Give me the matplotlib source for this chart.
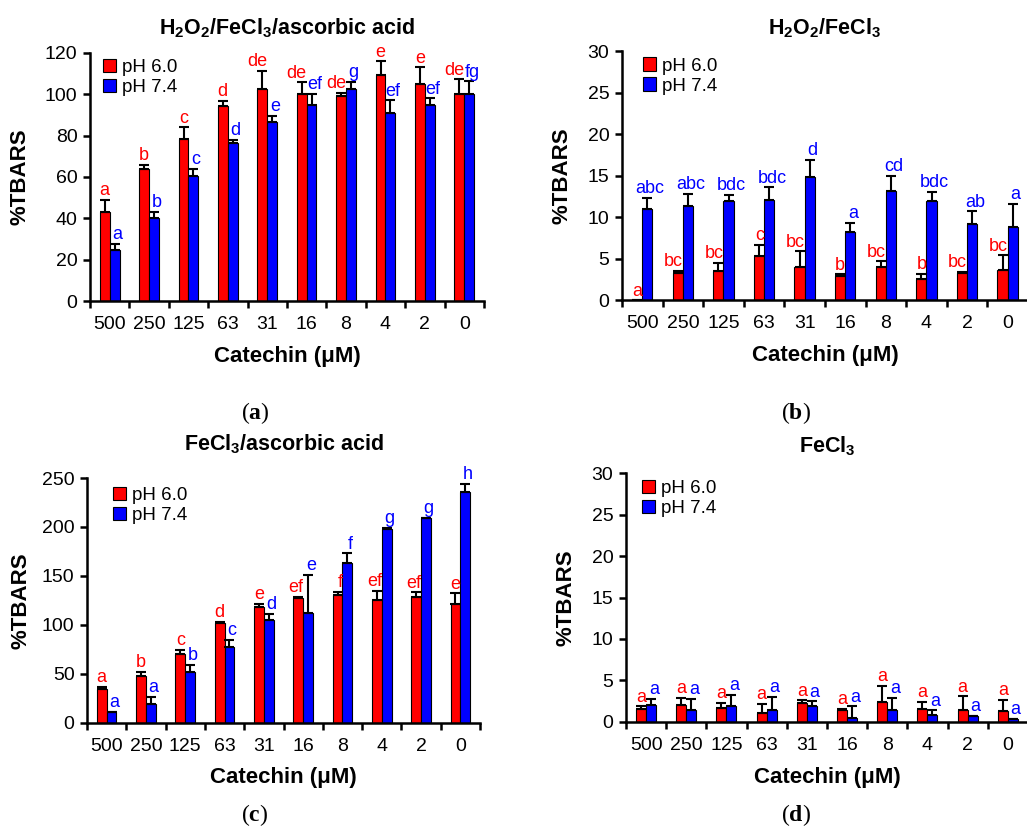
import numpy as np
import matplotlib
matplotlib.use("Agg")
from matplotlib import pyplot as plt

plt.rcParams["font.family"] = ["Liberation Sans", "DejaVu Sans"]
plt.rcParams["mathtext.fontset"] = "custom"
plt.rcParams["mathtext.rm"] = "Liberation Sans:bold"
plt.rcParams["mathtext.bf"] = "Liberation Serif:bold"

catechin = ["500", "250", "125", "63", "31", "16", "8", "4", "2", "0"]
series = ["pH 6.0", "pH 7.4"]

# (a) H2O2/FeCl3/ascorbic acid
a_ph60 = [43.3, 64.0, 78.5, 94.5, 102.6, 100.2, 99.4, 109.5, 105.2, 100.0]
a_ph60_err = [5.5, 1.7, 5.5, 2.3, 8.9, 5.5, 1.4, 6.5, 7.8, 7.2]
a_ph74 = [24.7, 40.0, 60.3, 76.4, 86.8, 94.8, 102.6, 91.1, 94.8, 100.0]
a_ph74_err = [2.8, 3.0, 3.7, 1.6, 2.7, 5.4, 3.4, 5.9, 3.2, 6.2]
a_let60 = ["a", "b", "c", "d", "de", "de", "de", "e", "e", "de"]
a_let74 = ["a", "b", "c", "d", "e", "ef", "g", "ef", "ef", "fg"]

# (b) H2O2/FeCl3
b_ph60 = [0.0, 3.3, 3.5, 5.3, 4.0, 2.9, 4.0, 2.5, 3.3, 3.6]
b_ph60_err = [0.0, 0.2, 1.0, 1.4, 1.9, 0.2, 0.7, 0.7, 0.1, 1.8]
b_ph74 = [10.95, 11.3, 11.9, 12.1, 14.9, 8.2, 13.2, 12.0, 9.15, 8.8]
b_ph74_err = [1.35, 1.5, 0.8, 1.5, 2.0, 1.1, 1.8, 1.1, 1.55, 2.8]
b_let60 = ["a", "bc", "bc", "c", "bc", "b", "bc", "b", "bc", "bc"]
b_let74 = ["abc", "abc", "bdc", "bdc", "d", "a", "cd", "bdc", "ab", "a"]

# (c) FeCl3/ascorbic acid
c_ph60 = [35.1, 48.1, 70.3, 101.6, 118.7, 127.9, 131.0, 125.2, 128.2, 121.4]
c_ph60_err = [1.7, 4.1, 4.1, 1.4, 3.1, 1.1, 3.0, 9.5, 5.2, 10.9]
c_ph74 = [10.9, 19.1, 52.5, 77.8, 105.0, 112.5, 163.0, 197.8, 208.7, 236.0]
c_ph74_err = [0.7, 7.5, 6.8, 6.8, 6.2, 38.9, 10.0, 1.0, 0.7, 7.9]
c_let60 = ["a", "b", "c", "d", "e", "ef", "f", "ef", "ef", "e"]
c_let74 = ["a", "a", "b", "c", "d", "e", "f", "g", "g", "h"]

# (d) FeCl3
d_ph60 = [1.6, 2.1, 1.7, 1.1, 2.3, 1.4, 2.4, 1.6, 1.4, 1.3]
d_ph60_err = [0.3, 0.8, 0.6, 1.1, 0.3, 0.2, 1.95, 0.8, 1.7, 1.4]
d_ph74 = [2.1, 1.5, 1.9, 1.5, 1.9, 0.5, 1.5, 0.8, 0.7, 0.4]
d_ph74_err = [0.7, 1.3, 1.4, 1.5, 0.6, 1.4, 1.4, 0.6, 0.0, 0.0]
d_let60 = ["a"] * 10
d_let74 = ["a"] * 10

RED = "#ff0000"
BLUE = "#0000ff"

panels = [
    dict(rect=[0.0876, 0.636, 0.3836, 0.300], title="H$_2$O$_2$/FeCl$_3$/ascorbic acid",
         pad=13, data=(a_ph60, a_ph60_err, a_ph74, a_ph74_err, a_let60, a_let74),
         ymax=120, ystep=20, ylab_x=-0.152, leg_x=0.033, leg_y=0.975,
         cap="a", cap_xy=(255, 413)),
    dict(rect=[0.6056, 0.637, 0.3953, 0.301], title="H$_2$O$_2$/FeCl$_3$",
         pad=12, data=(b_ph60, b_ph60_err, b_ph74, b_ph74_err, b_let60, b_let74),
         ymax=30, ystep=5, ylab_x=-0.121, leg_x=0.052, leg_y=0.975,
         cap="b", cap_xy=(796, 413)),
    dict(rect=[0.0847, 0.1258, 0.3827, 0.2962], title="FeCl$_3$/ascorbic acid",
         pad=20, data=(c_ph60, c_ph60_err, c_ph74, c_ph74_err, c_let60, c_let74),
         ymax=250, ystep=50, ylab_x=-0.14, leg_x=0.066, leg_y=0.963,
         cap="c", cap_xy=(255, 815)),
    dict(rect=[0.6095, 0.127, 0.3914, 0.301], title="FeCl$_3$",
         pad=15, data=(d_ph60, d_ph60_err, d_ph74, d_ph74_err, d_let60, d_let74),
         ymax=30, ystep=5, ylab_x=-0.122, leg_x=0.04, leg_y=0.972,
         cap="d", cap_xy=(796, 815)),
]

W, H = 1027, 827
fig = plt.figure(figsize=(W / 100, H / 100), dpi=100)
fig.patch.set_facecolor("white")

x = np.arange(len(catechin)) + 0.5
bw = 0.25

for p in panels:
    ph60, ph60_err, ph74, ph74_err, let60, let74 = p["data"]
    ax = fig.add_axes(p["rect"])
    zeros = np.zeros(len(catechin))

    r = ax.bar(x - bw / 2, ph60, bw, color=RED, edgecolor="black", linewidth=0.8,
               label=series[0], zorder=2)
    b = ax.bar(x + bw / 2, ph74, bw, color=BLUE, edgecolor="black", linewidth=0.8,
               label=series[1], zorder=2)
    ax.errorbar(x - bw / 2, ph60, yerr=[zeros, ph60_err], fmt="none", ecolor="black",
                elinewidth=1.5, capsize=3.5, capthick=1.5, zorder=3)
    ax.errorbar(x + bw / 2, ph74, yerr=[zeros, ph74_err], fmt="none", ecolor="black",
                elinewidth=1.5, capsize=3.5, capthick=1.5, zorder=3)

    # significance letters: red ones end at the red bar's right edge,
    # blue ones sit over the blue bar
    for i in range(len(catechin)):
        ax.annotate(let60[i], (x[i], ph60[i] + ph60_err[i]), xytext=(0, 0.5),
                    textcoords="offset points", ha="right", va="bottom",
                    color=RED, fontsize=13)
        ax.annotate(let74[i], (x[i] + bw / 2, ph74[i] + ph74_err[i]), xytext=(2, 0.5),
                    textcoords="offset points", ha="center", va="bottom",
                    color=BLUE, fontsize=13)

    ax.set_xlim(0, len(catechin))
    ax.set_ylim(0, p["ymax"])
    ax.set_yticks(np.arange(0, p["ymax"] + 1, p["ystep"]))
    ax.set_xticks(np.arange(len(catechin) + 1))
    ax.set_xticklabels([])
    ax.set_xticks(x, minor=True, labels=catechin)

    for side in ("top", "right"):
        ax.spines[side].set_visible(False)
    for side in ("left", "bottom"):
        ax.spines[side].set_linewidth(1.8)
    ax.tick_params(axis="both", which="major", direction="out", length=5, width=1.8,
                   labelsize=14, pad=4)
    ax.tick_params(axis="x", which="minor", length=0, labelsize=14, pad=10.5)

    ax.set_title(p["title"], fontsize=15.5, fontweight="bold", pad=p["pad"])
    ax.set_ylabel("%TBARS", fontsize=16, fontweight="bold")
    ax.yaxis.set_label_coords(p["ylab_x"], 0.5)
    ax.set_xlabel("Catechin (μM)", fontsize=16, fontweight="bold")
    ax.xaxis.set_label_coords(0.5, -0.18)

    ax.legend(handles=[r, b], loc="upper left", bbox_to_anchor=(p["leg_x"], p["leg_y"]),
              frameon=False, fontsize=13.5, handlelength=0.7, handleheight=0.7,
              handletextpad=0.3, labelspacing=0.15, borderpad=0, borderaxespad=0)

    cx, cy = p["cap_xy"]
    fig.text(cx / W, 1 - cy / H, "($\\mathbf{" + p["cap"] + "}$)", ha="center", va="center",
             fontsize=17, family="Liberation Serif")

fig.savefig("out.png", dpi=100, facecolor="white")
